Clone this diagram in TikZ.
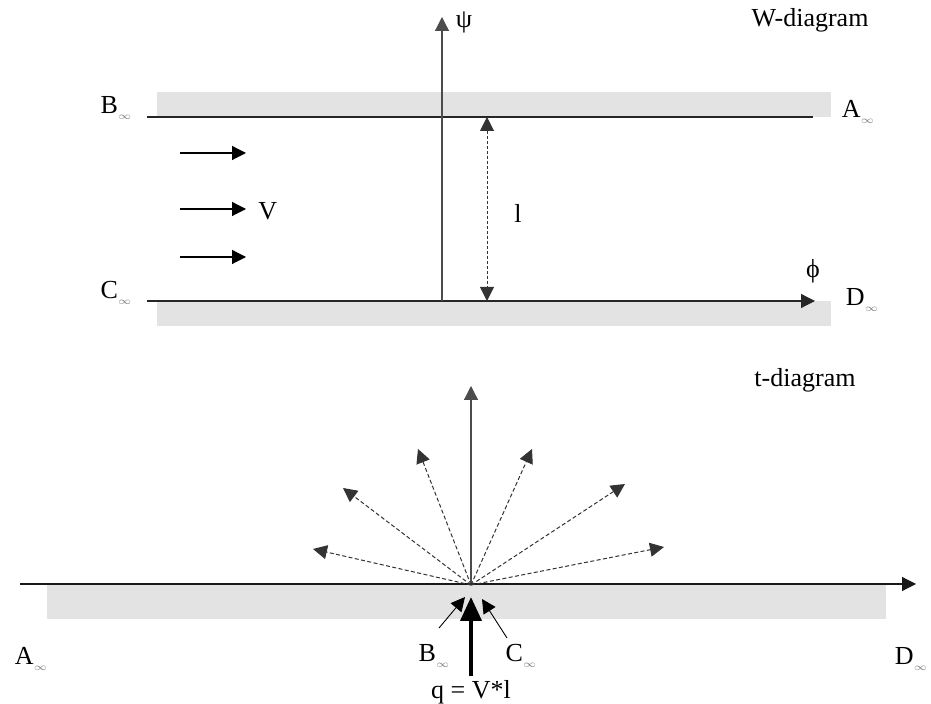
\documentclass[tikz,border=0pt]{standalone}
\usepackage{fontspec}
\setmainfont{Liberation Serif}
\usetikzlibrary{arrows.meta}
\newcommand{\far}[1]{#1\raisebox{-3pt}{\color{black!50}\fontsize{4}{4}\selectfont$\infty$}}

\begin{document}
\begin{tikzpicture}[x=0.5pt, y=-0.5pt, font=\fontsize{13}{15}\selectfont, >={Triangle[length=7pt,width=7pt]}]
\tikzstyle{band}=[fill=black!11, draw=none]
\tikzstyle{wall}=[draw=black!85, line width=0.6pt]
\tikzstyle{axis}=[->, draw=black!70, line width=0.6pt]
\tikzstyle{ray}=[->, draw=black!80, line width=0.5pt, dash pattern=on 2pt off 1.2pt]
\tikzstyle{lbl}=[inner sep=1pt]
\useasboundingbox (0,0) rectangle (931,704);
% W-diagram
\fill[band] (157,92) rectangle (831,117);
\fill[band] (157,301) rectangle (831,326);
\coordinate (wBA) at (147,117);
\coordinate (wAB) at (813,117);
\coordinate (wC) at (147,301);
\coordinate (wD) at (815,301);
\coordinate (wO) at (442,301);
\coordinate (wPsi) at (442,17);
\coordinate (lTop) at (487,117);
\coordinate (lBot) at (487,301);
\node[lbl] (B) at (116,108) {\far{B}};
\node[lbl] (A) at (858,112) {\far{A}};
\node[lbl] (C) at (116,293) {\far{C}};
\node[lbl] (D) at (862,300) {\far{D}};
\node[lbl] (psi) at (464,22) {ψ};
\node[lbl] (phi) at (813,271) {ϕ};
\node[lbl] (wtitle) at (810,20) {W-diagram};
\node[lbl] (len) at (518,213) {l};
\draw[wall] (wBA) -- (wAB);
\draw[axis, draw=black!85] (wC) -- (wD);
\draw[axis] (wO) -- (wPsi);
\draw[<->, draw=black!80, line width=0.5pt, dash pattern=on 1.5pt off 1pt] (lTop) -- (lBot);
\coordinate (v1a) at (180,153); \coordinate (v1b) at (246,153);
\coordinate (v2a) at (180,209); \coordinate (v2b) at (246,209);
\coordinate (v3a) at (180,257); \coordinate (v3b) at (246,257);
\node[lbl, anchor=west] (V) at (256,211) {V};
\draw[axis, draw=black] (v1a) -- (v1b);
\draw[axis, draw=black] (v2a) -- (v2b);
\draw[axis, draw=black] (v3a) -- (v3b);
% t-diagram
\fill[band] (47,585) rectangle (886,619);
\coordinate (tL) at (20,584);
\coordinate (tR) at (916,584);
\coordinate (tO) at (471,585);
\node[lbl] (ttitle) at (805,380) {t-diagram};
\draw[axis, draw=black!90] (tL) -- (tR);
\coordinate (s0) at (471,386);
\coordinate (s1) at (313,549);
\coordinate (s2) at (343,488);
\coordinate (s3) at (418,449);
\coordinate (s4) at (532,449);
\coordinate (s5) at (625,484);
\coordinate (s6) at (664,547);
\draw[axis] (tO) -- (s0);
\draw[ray] (tO) -- (s1);
\draw[ray] (tO) -- (s2);
\draw[ray] (tO) -- (s3);
\draw[ray] (tO) -- (s4);
\draw[ray] (tO) -- (s5);
\draw[ray] (tO) -- (s6);
\node[lbl] (tA) at (31,659) {\far{A}};
\node[lbl] (tB) at (434,656) {\far{B}};
\node[lbl] (tC) at (521,656) {\far{C}};
\node[lbl] (tD) at (911,659) {\far{D}};
\node[lbl] (q) at (471,692) {q = V*l};
\coordinate (bFoot) at (439,628);
\coordinate (bTip) at (465,597);
\coordinate (cFoot) at (507,638);
\coordinate (cTip) at (482,599);
\coordinate (qFoot) at (471,676);
\coordinate (qTip) at (471,597);
\draw[->, line width=0.45pt] (bFoot) -- (bTip);
\draw[->, line width=0.45pt] (cFoot) -- (cTip);
\draw[-{Triangle[length=12pt,width=10.5pt]}, line width=2pt] (qFoot) -- (qTip);
\end{tikzpicture}
\end{document}
